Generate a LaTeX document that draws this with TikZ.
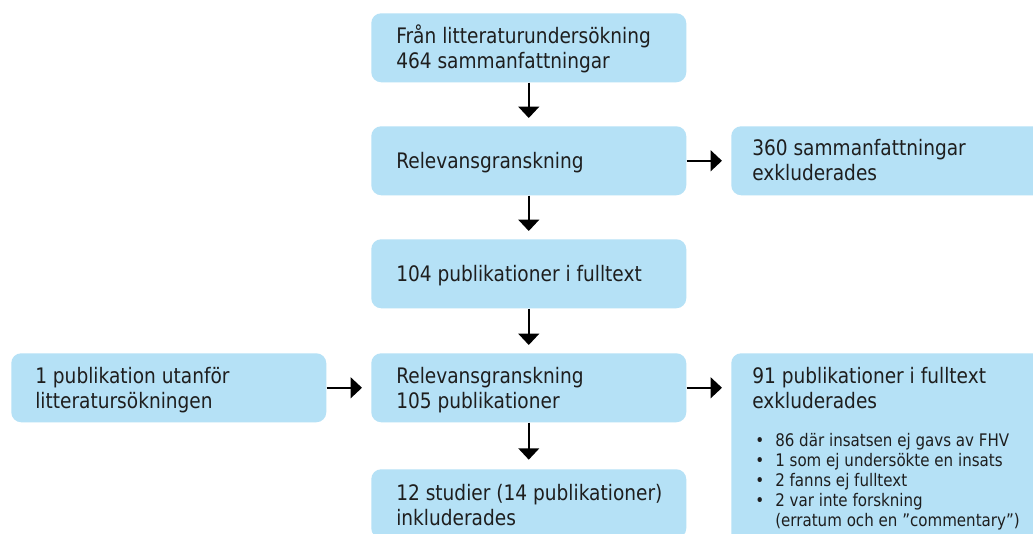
\documentclass[tikz,border=0pt]{standalone}
\usepackage{fontspec}
\setmainfont{DejaVu Sans}[FakeStretch=0.87]
\usetikzlibrary{arrows.meta}
\definecolor{boxblue}{RGB}{181,225,246}
\definecolor{txtgray}{RGB}{30,30,30}
\tikzset{
  box/.style={fill=boxblue, rounded corners=7.5pt, minimum width=236.25pt, minimum height=51.75pt, anchor=north west, inner sep=0pt},
  txt/.style={anchor=base west, inner sep=0pt, align=left, text=txtgray, font=\fontsize{16}{18.75}\selectfont},
  smalltxt/.style={anchor=base west, inner sep=0pt, align=left, text=txtgray, font=\fontsize{13}{15}\selectfont},
  arr/.style={-{Triangle[length=8.5pt,width=15.5pt]}, line width=1.5pt}
}
\newcommand{\bul}{\makebox[15pt][l]{\textbullet}}
\begin{document}
\begin{tikzpicture}[x=0.75pt,y=-0.75pt]
\clip (0,0) rectangle (1033,533);
\fill[white] (0,0) rectangle (1033,533);
% boxes
\node[box] (b1) at (371,13) {};
\node[box] (b2) at (371,126) {};
\node[box] (r1) at (731,126) {};
\node[box] (b3) at (371,239) {};
\node[box] (b4) at (371,353) {};
\node[box] (l1) at (11,353) {};
\node[box, minimum height=150pt] (r2) at (731,353) {};
\node[box] (b5) at (371,469) {};
% texts (base = baseline of last line)
\node[txt] (t1) at (396,68) {Från litteraturundersökning\\464 sammanfattningar};
\node[txt] (t2) at (396,168) {Relevansgranskning};
\node[txt] (t3) at (752,180) {360 sammanfattningar\\exkluderades};
\node[txt] (t4) at (396,281) {104 publikationer i fulltext};
\node[txt] (t5) at (396,408) {Relevansgranskning\\105 publikationer};
\node[txt] (t6) at (35,408) {1 publikation utanför\\litteratursökningen};
\node[txt] (t7) at (752,408) {91 publikationer i fulltext\\exkluderades};
\node[smalltxt] (t8) at (755,526) {\bul 86 där insatsen ej gavs av FHV\\\bul 1 som ej undersökte en insats\\\bul 2 fanns ej fulltext\\\bul 2 var inte forskning\\\hspace*{15pt}(erratum och en ”commentary”)};
\node[txt] (t9) at (396,525) {12 studier (14 publikationer)\\inkluderades};
% arrows
\draw[arr, shorten >=6pt] (b1) -- (b2);
\draw[arr, shorten >=6pt] (b2) -- (b3);
\draw[arr, shorten >=6pt] (b3) -- (b4);
\draw[arr, shorten >=7pt] (b4) -- (b5);
\draw[arr, shorten >=6.75pt] (b2) -- (r1);
\draw[arr, shorten >=6.75pt] (l1) -- (b4);
\draw[arr, shorten >=6.75pt] (b4.east) -- (b4.east -| r2.west);
\end{tikzpicture}
\end{document}
